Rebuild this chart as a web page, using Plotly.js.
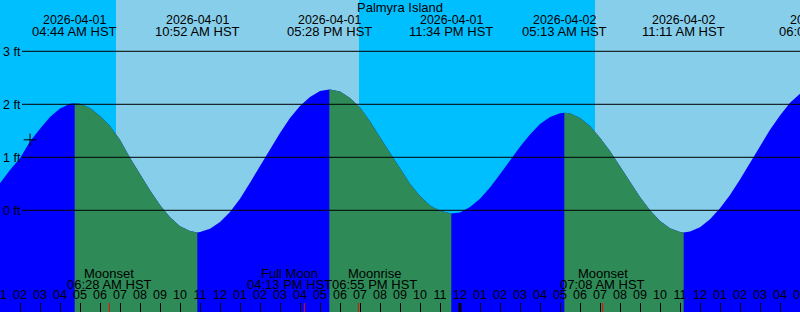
<!DOCTYPE html>
<html><head><meta charset="utf-8">
<script src="https://cdn.plot.ly/plotly-3.0.1.min.js"></script>
<style>html,body{margin:0;padding:0;background:#00BFFF;overflow:hidden}</style>
</head><body><div id="chart" style="width:800px;height:312px"></div>
<script>
// ---------- data ----------
const stationName = 'Palmyra Island';
const viewStart = '2026-04-01 01:00';
const viewEnd = '2026-04-02 17:00';

const tideTime = [
 '2026-04-01 01:00','2026-04-01 01:30','2026-04-01 02:00','2026-04-01 02:30','2026-04-01 03:00','2026-04-01 03:30','2026-04-01 04:00','2026-04-01 04:30','2026-04-01 04:44',
 '2026-04-01 05:00','2026-04-01 05:30','2026-04-01 06:00','2026-04-01 06:30','2026-04-01 07:00','2026-04-01 07:30','2026-04-01 08:00','2026-04-01 08:30','2026-04-01 09:00','2026-04-01 09:30','2026-04-01 10:00','2026-04-01 10:30','2026-04-01 10:52',
 '2026-04-01 11:00','2026-04-01 11:30','2026-04-01 12:00','2026-04-01 12:30','2026-04-01 13:00','2026-04-01 13:30','2026-04-01 14:00','2026-04-01 14:30','2026-04-01 15:00','2026-04-01 15:30','2026-04-01 16:00','2026-04-01 16:30','2026-04-01 17:00','2026-04-01 17:28',
 '2026-04-01 17:30','2026-04-01 18:00','2026-04-01 18:30','2026-04-01 19:00','2026-04-01 19:30','2026-04-01 20:00','2026-04-01 20:30','2026-04-01 21:00','2026-04-01 21:30','2026-04-01 22:00','2026-04-01 22:30','2026-04-01 23:00','2026-04-01 23:30','2026-04-01 23:34',
 '2026-04-02 00:00','2026-04-02 00:30','2026-04-02 01:00','2026-04-02 01:30','2026-04-02 02:00','2026-04-02 02:30','2026-04-02 03:00','2026-04-02 03:30','2026-04-02 04:00','2026-04-02 04:30','2026-04-02 05:00','2026-04-02 05:13',
 '2026-04-02 05:30','2026-04-02 06:00','2026-04-02 06:30','2026-04-02 07:00','2026-04-02 07:30','2026-04-02 08:00','2026-04-02 08:30','2026-04-02 09:00','2026-04-02 09:30','2026-04-02 10:00','2026-04-02 10:30','2026-04-02 11:00','2026-04-02 11:11',
 '2026-04-02 11:30','2026-04-02 12:00','2026-04-02 12:30','2026-04-02 13:00','2026-04-02 13:30','2026-04-02 14:00','2026-04-02 14:30','2026-04-02 15:00','2026-04-02 15:30','2026-04-02 16:00','2026-04-02 16:30','2026-04-02 17:00'
];
const tideFeet = [
 0.51,0.76,0.98,1.30,1.54,1.76,1.92,2.01,2.02,
 2.01,1.93,1.78,1.59,1.33,0.99,0.68,0.38,0.10,-0.13,-0.30,-0.39,-0.42,
 -0.41,-0.35,-0.22,-0.03,0.22,0.52,0.83,1.15,1.46,1.74,1.97,2.14,2.25,2.28,
 2.28,2.24,2.12,1.94,1.68,1.38,1.08,0.80,0.50,0.27,0.09,-0.01,-0.06,-0.06,
 -0.04,0.06,0.22,0.43,0.68,0.94,1.20,1.43,1.63,1.76,1.83,1.84,
 1.83,1.74,1.59,1.37,1.12,0.83,0.53,0.25,0.00,-0.20,-0.34,-0.41,-0.42,
 -0.40,-0.32,-0.17,0.04,0.29,0.58,0.90,1.21,1.52,1.79,2.03,2.20
];

const extremeTime  = ['2026-04-01 04:44','2026-04-01 10:52','2026-04-01 17:28','2026-04-01 23:34','2026-04-02 05:13','2026-04-02 11:11','2026-04-02 18:03'];
const extremeDate  = ['2026-04-01','2026-04-01','2026-04-01','2026-04-01','2026-04-02','2026-04-02','2026-04-02'];
const extremeClock = ['04:44 AM HST','10:52 AM HST','05:28 PM HST','11:34 PM HST','05:13 AM HST','11:11 AM HST','06:03 PM HST'];

const sunriseTime = ['2026-04-01 06:48','2026-04-02 06:45'];
const sunsetTime  = ['2026-04-01 18:57','2026-04-02 18:58'];

const moonEventTime  = ['2026-04-01 06:28','2026-04-01 16:13','2026-04-01 18:55','2026-04-02 07:08'];
const moonEventName  = ['Moonset','Full Moon','Moonrise','Moonset'];
const moonEventClock = ['06:28 AM HST','04:13 PM HST','06:55 PM HST','07:08 AM HST'];

const midnightTime = ['2026-04-02 00:00'];
const levelTicks = [0, 1, 2, 3];
const nowTime = '2026-04-01 02:30';
const nowFeet = 1.33;

// ---------- styling / layout ----------
const W = 800, H = 312;
const FONT = 'Liberation Sans, Arial, Helvetica, sans-serif';
const C_NIGHT = '#00BFFF', C_DAY = '#87CEEB', C_RISE = '#0000FF', C_FALL = '#2E8B57';
const yRange = [-1.919, 3.968];
const floorY = yRange[0] - 1;

const ms = s => new Date(s.replace(' ', 'T')).getTime();
const t0 = ms(viewStart), t1 = ms(viewEnd);
const xFrac = s => (ms(s) - t0) / (t1 - t0);
const yPaper = px => 1 - px / H;

// split the curve into rising / falling stretches at the extremes
const extremeSet = new Set(extremeTime);
const segments = [];
let cur = {x: [tideTime[0]], y: [tideFeet[0]]};
for (let i = 1; i < tideTime.length; i++) {
  cur.x.push(tideTime[i]); cur.y.push(tideFeet[i]);
  if (extremeSet.has(tideTime[i]) && i < tideTime.length - 1) {
    segments.push(cur);
    cur = {x: [tideTime[i]], y: [tideFeet[i]]};
  }
}
segments.push(cur);

const poly = (xs, ys) => ({
  x: xs.concat([xs[xs.length - 1], xs[0], xs[0]]),
  y: ys.concat([floorY, floorY, ys[0]])
});

const traces = [];
// base fill (rising colour) under the whole curve
const base = poly(tideTime, tideFeet);
traces.push({type: 'scatter', mode: 'lines', x: base.x, y: base.y, fill: 'toself',
  fillcolor: C_RISE, line: {width: 0, color: C_RISE}, hoverinfo: 'skip', showlegend: false});
segments.forEach(s => {
  const rising = s.y[s.y.length - 1] > s.y[0];
  if (rising) return;
  const p = poly(s.x, s.y);
  traces.push({type: 'scatter', mode: 'lines', x: p.x, y: p.y, fill: 'toself',
    fillcolor: C_FALL, line: {width: 0, color: C_FALL}, hoverinfo: 'skip', showlegend: false});
});
traces.push({type: 'scatter', mode: 'markers', x: [nowTime], y: [nowFeet],
  marker: {symbol: 'cross-thin', size: 9, line: {width: 1, color: '#000'}, color: '#000'},
  hoverinfo: 'skip', showlegend: false});

const shapes = [];
sunriseTime.forEach((sr, i) => shapes.push({type: 'rect', xref: 'x', yref: 'paper',
  x0: sr, x1: sunsetTime[i], y0: 0, y1: 1, fillcolor: C_DAY, line: {width: 0}, layer: 'below'}));
levelTicks.forEach(v => shapes.push({type: 'line', xref: 'paper', yref: 'y',
  x0: 22 / W, x1: 1, y0: v, y1: v, line: {color: '#000', width: 1}, layer: 'above'}));
midnightTime.forEach(m => shapes.push({type: 'line', xref: 'x', yref: 'paper',
  x0: m, x1: m, y0: 0, y1: 9 / H, line: {color: '#000', width: 3}, layer: 'above'}));
moonEventTime.forEach(m => shapes.push({type: 'line', xref: 'x', yref: 'paper',
  x0: m, x1: m, y0: 0, y1: 9 / H, line: {color: '#FF0000', width: 1}, layer: 'above'}));

const annotations = [];
const txt = (text, xp, ypx, size, xshift) => ({text, xref: 'paper', yref: 'paper',
  x: xp, y: yPaper(ypx), xanchor: 'center', yanchor: 'middle', showarrow: false,
  xshift: xshift || 0, font: {family: FONT, size, color: '#000'}});
extremeTime.forEach((t, i) => {
  annotations.push(txt(extremeDate[i], xFrac(t), 19.5, 12.4));
  annotations.push(txt(extremeClock[i], xFrac(t), 31.5, 13));
});
const moonNudge = {1: -15, 2: 16};
moonEventTime.forEach((t, i) => {
  annotations.push(txt(moonEventName[i], xFrac(t), 273.5, 13, moonNudge[i]));
  annotations.push(txt(moonEventClock[i], xFrac(t), 284.5, 13, moonNudge[i]));
});

const layout = {
  width: W, height: H,
  margin: {l: 0, r: 0, t: 0, b: 0, pad: 0},
  paper_bgcolor: C_NIGHT, plot_bgcolor: C_NIGHT,
  font: {family: FONT, color: '#000', size: 12},
  showlegend: false,
  title: {text: stationName, x: 0.5, xanchor: 'center', xref: 'paper',
    y: yPaper(7), yref: 'container', yanchor: 'middle', font: {family: FONT, size: 13, color: '#000'}},
  xaxis: {type: 'date', range: [viewStart, viewEnd], tickmode: 'linear',
    tick0: '2026-04-01 00:00', dtick: 3600000, tickformat: '%I',
    ticks: 'inside', ticklen: 9, tickwidth: 1, tickcolor: '#000',
    ticklabelposition: 'inside', ticklabeloverflow: 'allow', ticklabelstandoff: 1,
    tickfont: {family: FONT, size: 12.5, color: '#000'},
    showgrid: false, zeroline: false, showline: false, layer: 'above traces', fixedrange: true},
  yaxis: {range: yRange, tickmode: 'array', tickvals: levelTicks,
    ticktext: levelTicks.map(v => v + ' ft'), ticks: '', ticklabelposition: 'inside',
    ticklabeloverflow: 'allow', tickfont: {family: FONT, size: 12.5, color: '#000'},
    showgrid: false, zeroline: false, showline: false, layer: 'above traces', fixedrange: true},
  shapes, annotations
};

Plotly.newPlot('chart', traces, layout, {staticPlot: true, displayModeBar: false});
</script></body></html>
